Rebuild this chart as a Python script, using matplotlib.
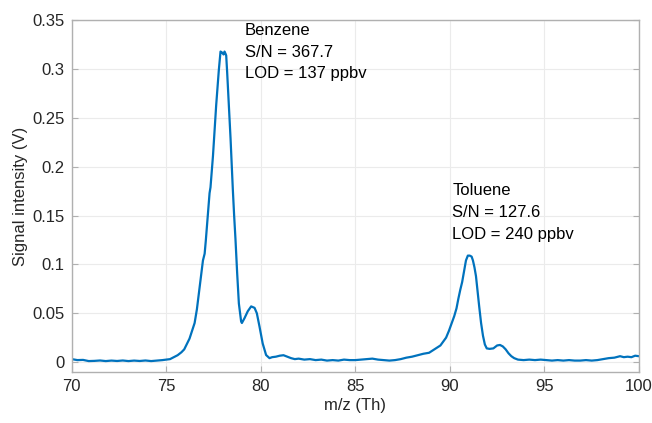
import matplotlib
matplotlib.use("Agg")
import matplotlib.pyplot as plt

plt.rcParams["font.family"] = ["Liberation Sans", "DejaVu Sans"]

# m/z (Th) and signal (V)
mz = [70.0, 70.3, 70.6, 70.9, 71.2, 71.5, 71.8, 72.1, 72.4, 72.7,
      73.0, 73.3, 73.6, 73.9, 74.2, 74.5, 74.8, 75.0, 75.2, 75.4,
      75.6, 75.8, 75.95, 76.1, 76.23, 76.35, 76.5, 76.62, 76.73, 76.85,
      76.94, 77.03, 77.09, 77.15, 77.22, 77.29, 77.34, 77.4, 77.47, 77.55,
      77.64, 77.71, 77.78, 77.87, 77.95, 78.03, 78.08, 78.13, 78.17, 78.22,
      78.31, 78.4, 78.46, 78.52, 78.59, 78.66, 78.75, 78.84, 78.96, 79.0,
      79.14, 79.31, 79.49, 79.67, 79.79, 79.93, 80.1, 80.28, 80.46, 80.6,
      80.8, 81.0, 81.2, 81.4, 81.6, 81.8, 82.0, 82.3, 82.6, 82.9,
      83.2, 83.5, 83.8, 84.1, 84.4, 84.7, 85.0, 85.3, 85.6, 85.9,
      86.2, 86.5, 86.8, 87.1, 87.4, 87.7, 88.0, 88.3, 88.6, 88.9,
      89.1, 89.3, 89.5, 89.65, 89.8, 89.95, 90.1, 90.23, 90.35, 90.45,
      90.55, 90.65, 90.75, 90.85, 90.95, 91.05, 91.15, 91.22, 91.3, 91.38,
      91.46, 91.55, 91.65, 91.75, 91.85, 91.95, 92.1, 92.3, 92.5, 92.65,
      92.8, 92.95, 93.1, 93.25, 93.4, 93.6, 93.9, 94.2, 94.5, 94.8,
      95.1, 95.4, 95.7, 96.0, 96.3, 96.6, 96.9, 97.2, 97.5, 97.8,
      98.1, 98.4, 98.7, 99.0, 99.2, 99.4, 99.6, 99.8, 100.0]

signal = [0.003, 0.002, 0.0022, 0.001, 0.0012, 0.0016, 0.001, 0.0015, 0.0011, 0.0016,
          0.001, 0.0015, 0.0011, 0.0016, 0.001, 0.0015, 0.002, 0.0025, 0.003, 0.005,
          0.007, 0.010, 0.013, 0.019, 0.024, 0.031, 0.040, 0.054, 0.071, 0.089,
          0.104, 0.111, 0.124, 0.139, 0.157, 0.173, 0.179, 0.194, 0.211, 0.236,
          0.263, 0.281, 0.299, 0.318, 0.317, 0.315, 0.318, 0.316, 0.314, 0.297,
          0.263, 0.229, 0.203, 0.177, 0.150, 0.126, 0.091, 0.060, 0.0415, 0.040,
          0.045, 0.052, 0.057, 0.0555, 0.050, 0.0365, 0.019, 0.0072, 0.004, 0.005,
          0.0055, 0.0065, 0.007, 0.0055, 0.004, 0.003, 0.0035, 0.0025, 0.003, 0.002,
          0.0025, 0.0015, 0.002, 0.0015, 0.0025, 0.002, 0.002, 0.0025, 0.003, 0.0035,
          0.0025, 0.002, 0.0015, 0.002, 0.003, 0.0045, 0.0055, 0.007, 0.0085, 0.0095,
          0.012, 0.0145, 0.017, 0.021, 0.025, 0.032, 0.040, 0.047, 0.055, 0.065,
          0.074, 0.082, 0.093, 0.104, 0.109, 0.109, 0.108, 0.104, 0.097, 0.088,
          0.073, 0.057, 0.040, 0.027, 0.018, 0.014, 0.0135, 0.014, 0.017, 0.0175,
          0.016, 0.013, 0.009, 0.006, 0.004, 0.0025, 0.002, 0.0025, 0.002, 0.0025,
          0.002, 0.0015, 0.002, 0.0015, 0.002, 0.0015, 0.0015, 0.002, 0.0015, 0.002,
          0.003, 0.004, 0.0045, 0.006, 0.005, 0.0055, 0.005, 0.0065, 0.006]

xticks = [70, 75, 80, 85, 90, 95, 100]
yticks = [0, 0.05, 0.1, 0.15, 0.2, 0.25, 0.3, 0.35]
ytick_labels = ["0", "0.05", "0.1", "0.15", "0.2", "0.25", "0.3", "0.35"]

benzene_text = "Benzene\nS/N = 367.7\nLOD = 137 ppbv"
toluene_text = "Toluene\nS/N = 127.6\nLOD = 240 ppbv"

txt = "#262626"
axcol = "#b0b0b0"

fig = plt.figure(figsize=(6.52, 4.23), dpi=100)
ax = fig.add_axes([0.110, 0.121, 0.870, 0.831])

ax.plot(mz, signal, color="#0072BD", linewidth=1.6)

ax.set_xlim(70, 100)
ax.set_ylim(-0.01, 0.35)
ax.set_xticks(xticks)
ax.set_yticks(yticks)
ax.set_yticklabels(ytick_labels)

ax.grid(True, color="#ebebeb", linewidth=0.8)
ax.set_axisbelow(True)

for s in ["top", "right", "left", "bottom"]:
    ax.spines[s].set_color(axcol)
    ax.spines[s].set_linewidth(1.0)

ax.tick_params(direction="in", length=4, color=axcol, labelcolor=txt,
               labelsize=12, pad=5, right=True)

ax.set_xlabel("m/z (Th)", fontsize=12, color=txt, labelpad=3)
ax.set_ylabel("Signal intensity (V)", fontsize=12, color=txt, labelpad=3)

ax.text(79.15, 0.347, benzene_text, fontsize=12, color="black",
        va="top", ha="left", linespacing=1.55)
ax.text(90.13, 0.183, toluene_text, fontsize=12, color="black",
        va="top", ha="left", linespacing=1.55)

fig.savefig("out.png", dpi=100)
